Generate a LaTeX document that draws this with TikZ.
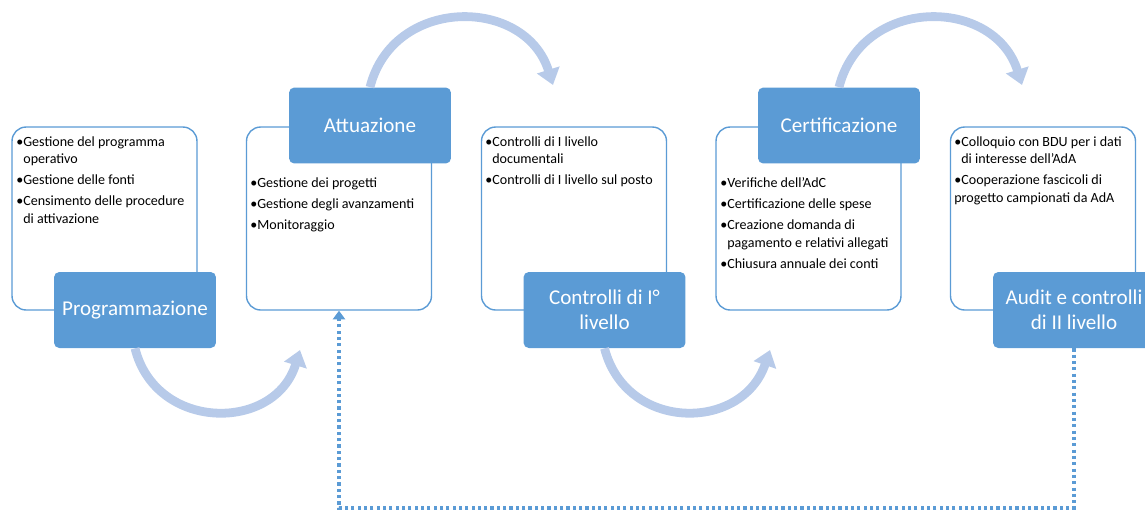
\documentclass[tikz,border=0pt]{standalone}
\usepackage{fontspec}
\setmainfont{Carlito}
\usetikzlibrary{arrows.meta}

\definecolor{blu}{RGB}{91,155,213}
\definecolor{celeste}{RGB}{183,202,233}

\tikzset{
  fase/.style={fill=blu, rounded corners=3pt, minimum width=3.24cm, minimum height=1.52cm,
    text=white, font=\fontsize{12}{14}\selectfont, align=center, inner sep=0pt},
  riquadro/.style={draw=blu, line width=0.8pt, fill=white, rounded corners=8pt,
    minimum width=3.7cm, minimum height=3.66cm, inner sep=0pt},
  elenco/.style={anchor=north west, align=left, font=\fontsize{8}{10}\selectfont, inner sep=0pt},
  giro/.style={draw=celeste, line width=5pt, -{Triangle[width=13pt,length=9pt]}},
  ritorno/.style={draw=blu, line width=1.8pt, dash pattern=on 1.8pt off 1.8pt,
    -{Triangle[width=7pt,length=5pt]}}
}
\newcommand{\rientro}{\phantom{\textbullet}}

\begin{document}
\begin{tikzpicture}[x=0.02cm, y=-0.02cm]
    \useasboundingbox (0,0) rectangle (1145,511);
    \clip (0,0) rectangle (1145,511);

    % Riquadri
    \node[riquadro] (progbox) at (104.5,218.5) {};
    \node[riquadro] (attbox) at (339,218.5) {};
    \node[riquadro] (ctrlbox) at (574,218.5) {};
    \node[riquadro] (certbox) at (808.5,218.5) {};
    \node[riquadro] (auditbox) at (1043,218.5) {};

    % Elenchi
    \node[elenco] (progtxt) at (16,136) {\textbullet Gestione del programma\\ \rientro operativo\\[2pt]
      \textbullet Gestione delle fonti\\[2pt] \textbullet Censimento delle procedure\\ \rientro di attivazione};
    \node[elenco] (atttxt) at (250,177) {\textbullet Gestione dei progetti\\[2pt]
      \textbullet Gestione degli avanzamenti\\[2pt] \textbullet Monitoraggio};
    \node[elenco] (ctrltxt) at (485,136) {\textbullet Controlli di I livello\\ \rientro documentali\\[2pt]
      \textbullet Controlli di I livello sul posto};
    \node[elenco] (certtxt) at (720,177) {\textbullet Verifiche dell’AdC\\[2pt]
      \textbullet Certificazione delle spese\\[2pt] \textbullet Creazione domanda di\\
      \rientro pagamento e relativi allegati\\[2pt] \textbullet Chiusura annuale dei conti};
    \node[elenco] (audittxt) at (954,136) {\textbullet Colloquio con BDU per i dati\\ \rientro di interesse dell’AdA\\[2pt]
      \textbullet Cooperazione fascicoli di\\ progetto campionati da AdA};

    % Fasi
    \node[fase] (prog) at (135,310) {Programmazione};
    \node[fase] (att) at (370,125.5) {Attuazione};
    \node[fase] (ctrl) at (604.5,310) {Controlli di I°\\livello};
    \node[fase] (cert) at (839,125.5) {Certificazione};
    \node[fase] (audit) at (1074,310) {Audit e controlli\\di II livello};

    % Frecce curve
    \coordinate (a1) at (300,350);
    \coordinate (a2) at (553,85);
    \coordinate (a3) at (770,350);
    \coordinate (a4) at (1022,85);
    \draw[giro] (prog.south) .. controls (156,432) and (275,432) .. (a1);
    \draw[giro] (att.north) .. controls (393,-4) and (525,-4) .. (a2);
    \draw[giro] (ctrl.south) .. controls (626,432) and (742,432) .. (a3);
    \draw[giro] (cert.north) .. controls (862,-4) and (994,-4) .. (a4);

    % Ritorno
    \coordinate (fondo) at (700,508);
    \draw[ritorno] (audit.south) |- (fondo) -| (attbox.south);
\end{tikzpicture}
\end{document}
